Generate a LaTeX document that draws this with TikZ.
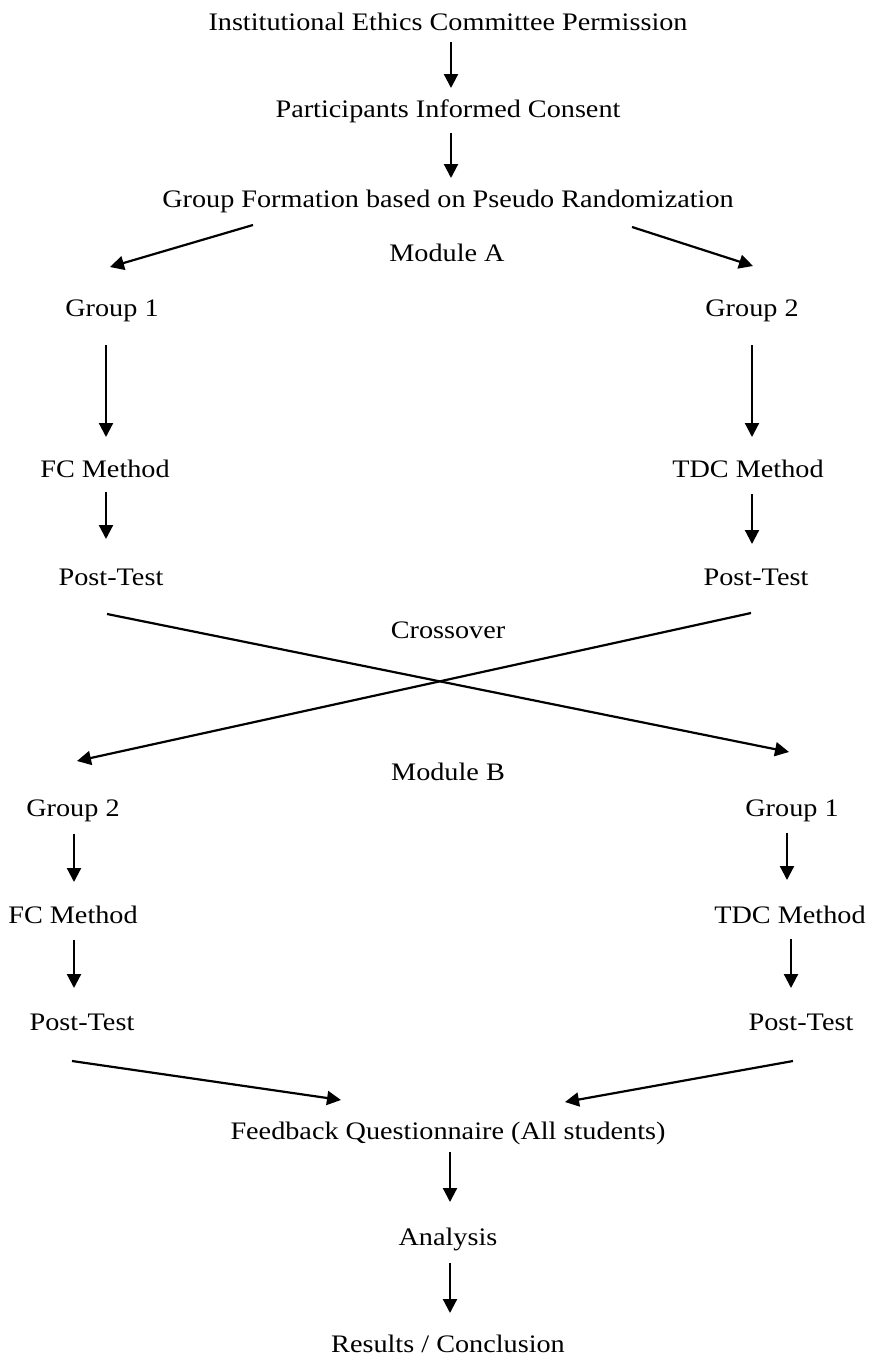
\documentclass[tikz,border=0pt]{standalone}
\usepackage{fontspec}
\setmainfont[FakeStretch=1.12]{Liberation Serif}
\usetikzlibrary{arrows.meta}
\tikzset{
    lbl/.style={anchor=base,inner sep=0pt,font=\fontsize{12.6}{14}\selectfont},
    arr/.style={line width=1.1pt,-{Triangle[length=7pt,width=7pt]}}
}
\begin{document}
\begin{tikzpicture}[x=0.5pt,y=-0.5pt]
    \useasboundingbox (0,0) rectangle (869,1360);
    % labels
    \node[lbl] (iec) at (448,30) {Institutional Ethics Committee Permission};
    \node[lbl] (pic) at (448,117) {Participants Informed Consent};
    \node[lbl] (gf) at (448,207) {Group Formation based on Pseudo Randomization};
    \node[lbl] (moda) at (447,261) {Module A};
    \node[lbl] (g1a) at (112,316) {Group 1};
    \node[lbl] (g2a) at (752,316) {Group 2};
    \node[lbl] (fc1) at (105,477) {FC Method};
    \node[lbl] (tdc1) at (748,477) {TDC Method};
    \node[lbl] (pt1) at (111,585) {Post-Test};
    \node[lbl] (pt2) at (756,585) {Post-Test};
    \node[lbl] (cross) at (448,638) {Crossover};
    \node[lbl] (modb) at (448,780) {Module B};
    \node[lbl] (g2b) at (73,816) {Group 2};
    \node[lbl] (g1b) at (792,816) {Group 1};
    \node[lbl] (fc2) at (73,923) {FC Method};
    \node[lbl] (tdc2) at (790,923) {TDC Method};
    \node[lbl] (pt3) at (82,1030) {Post-Test};
    \node[lbl] (pt4) at (801,1030) {Post-Test};
    \node[lbl] (fq) at (448,1139) {Feedback Questionnaire (All students)};
    \node[lbl] (an) at (448,1245) {Analysis};
    \node[lbl] (rc) at (448,1352) {Results / Conclusion};
    % arrow ends
    \coordinate (iec-o) at (451,42);   \coordinate (pic-i) at (451,88);
    \coordinate (pic-o) at (451,133);  \coordinate (gf-i) at (451,178);
    \coordinate (gfl-o) at (253,225);  \coordinate (g1a-i) at (110,267);
    \coordinate (gfr-o) at (632,227);  \coordinate (g2a-i) at (753,266);
    \coordinate (g1a-o) at (106,345);  \coordinate (fc1-i) at (106,437);
    \coordinate (g2a-o) at (752,345);  \coordinate (tdc1-i) at (752,437);
    \coordinate (fc1-o) at (106,492);  \coordinate (pt1-i) at (106,539);
    \coordinate (tdc1-o) at (752,494); \coordinate (pt2-i) at (752,544);
    \coordinate (pt1-o) at (107,614);  \coordinate (g1b-i) at (789,752);
    \coordinate (pt2-o) at (751,613);  \coordinate (g2b-i) at (77,761);
    \coordinate (g2b-o) at (74,834);   \coordinate (fc2-i) at (74,882);
    \coordinate (g1b-o) at (787,833);  \coordinate (tdc2-i) at (787,880);
    \coordinate (fc2-o) at (74,940);   \coordinate (pt3-i) at (74,988);
    \coordinate (tdc2-o) at (791,939); \coordinate (pt4-i) at (791,988);
    \coordinate (pt3-o) at (72,1061);  \coordinate (fql-i) at (341,1100);
    \coordinate (pt4-o) at (793,1061); \coordinate (fqr-i) at (565,1102);
    \coordinate (fq-o) at (450,1152);  \coordinate (an-i) at (450,1202);
    \coordinate (an-o) at (450,1263);  \coordinate (rc-i) at (450,1313);
    % arrows
    \draw[arr] (iec-o) -- (pic-i);
    \draw[arr] (pic-o) -- (gf-i);
    \draw[arr] (gfl-o) -- (g1a-i);
    \draw[arr] (gfr-o) -- (g2a-i);
    \draw[arr] (g1a-o) -- (fc1-i);
    \draw[arr] (g2a-o) -- (tdc1-i);
    \draw[arr] (fc1-o) -- (pt1-i);
    \draw[arr] (tdc1-o) -- (pt2-i);
    \draw[arr] (pt1-o) -- (g1b-i);
    \draw[arr] (pt2-o) -- (g2b-i);
    \draw[arr] (g2b-o) -- (fc2-i);
    \draw[arr] (g1b-o) -- (tdc2-i);
    \draw[arr] (fc2-o) -- (pt3-i);
    \draw[arr] (tdc2-o) -- (pt4-i);
    \draw[arr] (pt3-o) -- (fql-i);
    \draw[arr] (pt4-o) -- (fqr-i);
    \draw[arr] (fq-o) -- (an-i);
    \draw[arr] (an-o) -- (rc-i);
\end{tikzpicture}
\end{document}
